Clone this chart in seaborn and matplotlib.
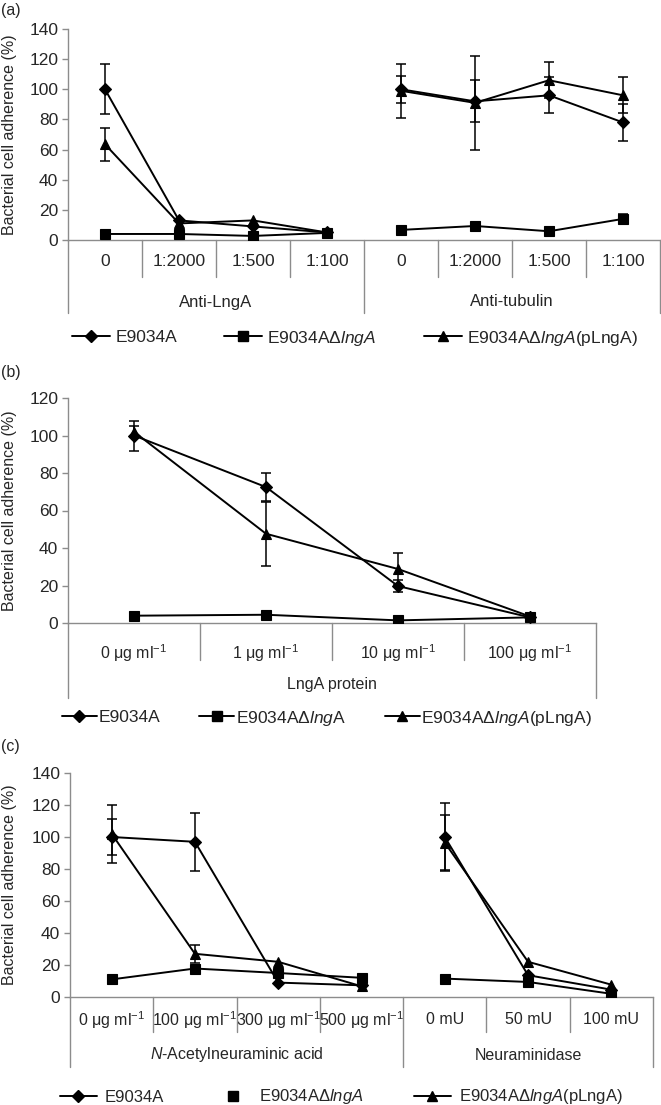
import numpy as np
import pandas as pd
import matplotlib
matplotlib.use("Agg")
import matplotlib.pyplot as plt
import seaborn as sns
from matplotlib.lines import Line2D

sns.set_theme(style="white")
plt.rcParams["font.family"] = ["Liberation Sans", "DejaVu Sans"]
plt.rcParams["mathtext.fontset"] = "custom"
plt.rcParams["mathtext.rm"] = "Liberation Sans"
plt.rcParams["mathtext.it"] = "Liberation Sans:italic"
plt.rcParams["mathtext.bf"] = "Liberation Sans:bold"

FS = 11.5
TICK_FS = 12.5
W, H = 661, 1105
GREY = "#8c8c8c"

STRAINS = ["E9034A", "E9034AdlngA", "E9034AdlngA(pLngA)"]
MARKERS = {"E9034A": "D", "E9034AdlngA": "s", "E9034AdlngA(pLngA)": "^"}
MSIZE = {"D": 6.0, "s": 7.0, "^": 7.5}

# ---------------- Panel (a) ----------------
a_categories = ["0", "1:2000", "1:500", "1:100", "0", "1:2000", "1:500", "1:100"]
a_groups = ["Anti-LngA"] * 4 + ["Anti-tubulin"] * 4
a_wt = [100, 13, 9, 5, 100, 92, 96, 78]
a_wt_err = [16.5, 0, 0, 0, 9, 14, 12, 12]
a_ko = [4, 4, 2.7, 4.7, 6.7, 9.3, 5.8, 14]
a_ko_err = [0, 0, 0, 0, 0, 0, 0, 3]
a_comp = [63.5, 11, 13, 5, 99, 91, 106, 96]
a_comp_err = [11, 0, 0, 0, 18, 31, 12, 12]
a_yticks = [0, 20, 40, 60, 80, 100, 120, 140]
a_legend = ["E9034A", r"E9034AΔ$\mathit{lngA}$", r"E9034AΔ$\mathit{lngA}$(pLngA)"]

# ---------------- Panel (b) ----------------
b_categories = [r"0 μg ml$^{-1}$", r"1 μg ml$^{-1}$", r"10 μg ml$^{-1}$", r"100 μg ml$^{-1}$"]
b_groups = ["LngA protein"] * 4
b_wt = [100, 72.5, 19.7, 3]
b_wt_err = [8, 7.5, 3, 0]
b_ko = [3.9, 4.4, 1.4, 3]
b_ko_err = [0, 0, 0, 0]
b_comp = [102, 47.6, 28.8, 3.5]
b_comp_err = [3, 17, 8.5, 0]
b_yticks = [0, 20, 40, 60, 80, 100, 120]
b_legend = ["E9034A", r"E9034AΔ$\mathit{lng}$A", r"E9034AΔ$\mathit{lngA}$(pLngA)"]

# ---------------- Panel (c) ----------------
c_categories = [r"0 μg ml$^{-1}$", r"100 μg ml$^{-1}$", r"300 μg ml$^{-1}$", r"500 μg ml$^{-1}$",
                "0 mU", "50 mU", "100 mU"]
c_groups = [r"$\mathit{N}$-Acetylneuraminic acid"] * 4 + ["Neuraminidase"] * 3
c_wt = [100, 97, 9, 7.3, 100, 13.6, 4.6]
c_wt_err = [11, 18, 0, 0, 21, 0, 0]
c_ko = [11, 17.8, 15, 12, 11.5, 9.4, 2]
c_ko_err = [0, 0, 0, 0, 0, 0, 0]
c_comp = [102, 27, 22, 6.7, 96.5, 22, 7.7]
c_comp_err = [18, 5.5, 0, 0, 17, 0, 0]
c_yticks = [0, 20, 40, 60, 80, 100, 120, 140]
c_legend = ["E9034A", r"E9034AΔ$\mathit{lngA}$", r"E9034AΔ$\mathit{lngA}$(pLngA)"]

fig = plt.figure(figsize=(W / 100, H / 100), dpi=100)


def add_ax(left, right, top, bottom):
    return fig.add_axes([left / W, 1 - bottom / H, (right - left) / W, (bottom - top) / H])


def draw_panel(ax, cats, groups, vals, errs, yticks, ax_h, lab_off, cat_depth, grp_lab,
               grp_depth, cat_fs, grp_fs):
    rows = []
    for s, v, e in zip(STRAINS, vals, errs):
        for i, (vv, ee, g) in enumerate(zip(v, e, groups)):
            rows.append(dict(pos=i, value=vv, err=ee, strain=s, group=g))
    df = pd.DataFrame(rows)
    eb = df[df.err > 0]
    ax.errorbar(eb.pos, eb.value, yerr=eb.err, fmt="none", ecolor="black",
                elinewidth=1.1, capsize=3.8, capthick=1.1, zorder=1)
    sns.lineplot(data=df, x="pos", y="value", hue="strain", style="strain", units="group",
                 estimator=None, markers=MARKERS, dashes=False,
                 palette={s: "black" for s in STRAINS}, ax=ax, legend=False,
                 linewidth=1.4, markeredgecolor="black", markeredgewidth=0.8, zorder=3)
    for ln in ax.lines:
        m = ln.get_marker()
        if m in MSIZE:
            ln.set_markersize(MSIZE[m])
    n = len(cats)
    ax.set_xlim(-0.5, n - 0.5)
    ax.set_ylim(yticks[0], yticks[-1])
    ax.set_yticks(yticks)
    ax.set_xticks(range(n))
    ax.set_xticklabels(cats, fontsize=cat_fs)
    for t in ax.get_xticklabels():
        t.set_va("center")
    ax.tick_params(axis="x", length=0, pad=lab_off * 0.72)
    ax.tick_params(axis="y", left=True, length=4, width=1, color=GREY, labelsize=TICK_FS, pad=3)
    ax.set_xlabel("")
    ax.set_ylabel("Bacterial cell adherence (%)", fontsize=FS)
    pos = ax.get_position()
    ax.yaxis.set_label_coords(-(pos.x0 * W - 17) / (pos.width * W), 0.5)
    for sp in ["top", "right"]:
        ax.spines[sp].set_visible(False)
    for sp in ["left", "bottom"]:
        ax.spines[sp].set_color(GREY)
        ax.spines[sp].set_linewidth(1)
    tr = ax.get_xaxis_transform()
    for k in range(n + 1):
        x = k - 0.5
        is_grp = k == 0 or k == n or groups[k] != groups[k - 1]
        d = grp_depth if is_grp else cat_depth
        ax.plot([x, x], [0, -d / ax_h], transform=tr, color=GREY, lw=1, clip_on=False)
    seen = []
    for g in groups:
        if g not in seen:
            seen.append(g)
    for g in seen:
        idx = [i for i, gg in enumerate(groups) if gg == g]
        ax.text(np.mean(idx), -grp_lab / ax_h, g, transform=tr, ha="center", va="center",
                fontsize=grp_fs)


def make_legend(labels, x_px, y_px, fs, hl, tp, cs, square_line=True):
    hs = []
    for s, lab in zip(STRAINS, labels):
        m = MARKERS[s]
        ls = "-" if (square_line or m != "s") else "none"
        hs.append(Line2D([], [], color="black", lw=1.4, ls=ls, marker=m,
                         markersize=MSIZE[m], markeredgecolor="black"))
    fig.legend(hs, labels, loc="center left", bbox_to_anchor=(x_px / W, 1 - y_px / H),
               ncol=3, frameon=False, fontsize=fs, handlelength=hl, handletextpad=tp,
               columnspacing=cs, borderpad=0, borderaxespad=0, numpoints=1)


axa = add_ax(68, 660, 29, 240)
draw_panel(axa, a_categories, a_groups, [a_wt, a_ko, a_comp], [a_wt_err, a_ko_err, a_comp_err],
           a_yticks, 211, 22, 37, 62, 73, 12.5, 12)
make_legend(a_legend, 72, 338, 12.5, 2.2, 0.3, 2.7)

axb = add_ax(68, 596, 398, 623)
draw_panel(axb, b_categories, b_groups, [b_wt, b_ko, b_comp], [b_wt_err, b_ko_err, b_comp_err],
           b_yticks, 225, 30, 37, 62, 75, 11.5, 11.5)
make_legend(b_legend, 62, 718, 12.5, 2.0, 0.1, 2.25)

axc = add_ax(70, 653, 773, 997)
draw_panel(axc, c_categories, c_groups, [c_wt, c_ko, c_comp], [c_wt_err, c_ko_err, c_comp_err],
           c_yticks, 224, 23, 35, 58, 70, 11.5, 11.5)
make_legend(c_legend, 60, 1097, 12, 2.2, 0.5, 3.0, square_line=False)

for lab, y in [("(a)", 10), ("(b)", 372), ("(c)", 747)]:
    fig.text(1 / W, 1 - y / H, lab, ha="left", va="center", fontsize=FS)

fig.savefig("out.png", dpi=100)
